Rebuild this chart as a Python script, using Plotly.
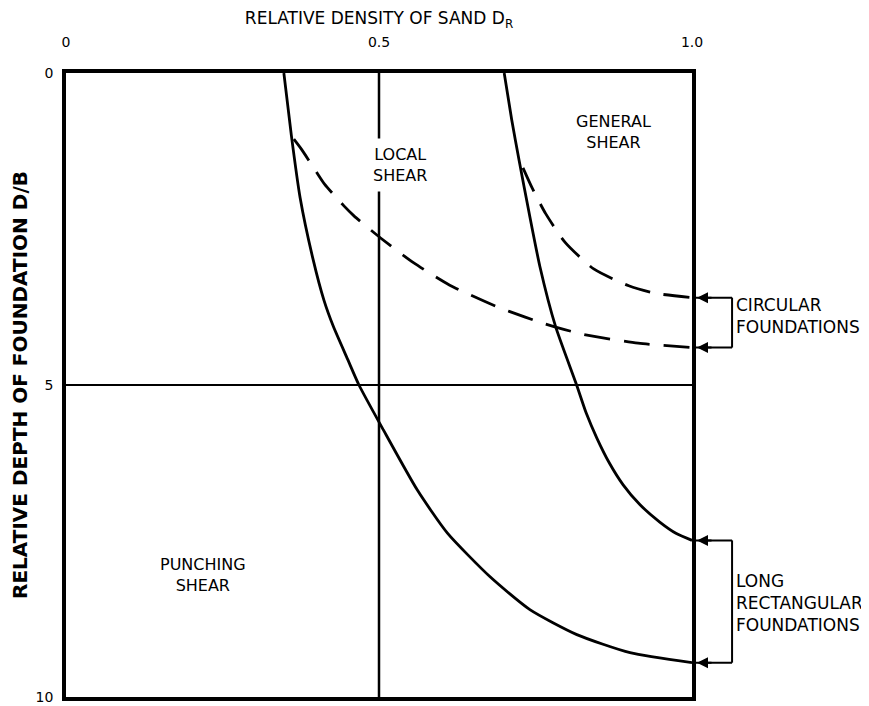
import plotly.graph_objects as go

# Solid boundary curves (relative density D_R vs relative depth D/B)
punch_x = [0.348, 0.360, 0.374, 0.395, 0.412, 0.427, 0.450, 0.468, 0.507, 0.561, 0.609, 0.677, 0.741, 0.816, 0.901, 1.0]
punch_y = [0.0, 1.0, 2.0, 3.0, 3.64, 4.06, 4.59, 5.0, 5.72, 6.68, 7.37, 8.07, 8.60, 9.0, 9.29, 9.45]

gen_x = [0.700, 0.712, 0.724, 0.739, 0.757, 0.782, 0.815, 0.831, 0.848, 0.868, 0.890, 0.917, 0.949, 0.975, 1.0]
gen_y = [0.0, 0.75, 1.41, 2.2, 3.1, 4.06, 4.98, 5.45, 5.85, 6.25, 6.60, 6.92, 7.20, 7.38, 7.49]

# Dashed curves (circular foundations)
circ_gen_x = [0.730, 0.745, 0.766, 0.797, 0.843, 0.899, 0.941, 1.0]
circ_gen_y = [1.52, 1.85, 2.25, 2.71, 3.14, 3.41, 3.53, 3.60]

circ_loc_x = [0.364, 0.376, 0.399, 0.413, 0.444, 0.460, 0.502, 0.555, 0.613, 0.687, 0.708, 0.759, 0.785, 0.827, 0.914, 1.0]
circ_loc_y = [1.06, 1.22, 1.57, 1.78, 2.13, 2.29, 2.64, 3.04, 3.40, 3.74, 3.82, 4.00, 4.08, 4.19, 4.33, 4.40]

x_ticks = [0, 0.5, 1.0]
x_tick_text = ["0", "0.5", "1.0"]
y_ticks = [0, 5, 10]
y_tick_text = ["0", "5", "10"]

FONT = "DejaVu Sans"
curve_w = 2.8

fig = go.Figure()
for xs, ys, dash in [(punch_x, punch_y, "solid"), (gen_x, gen_y, "solid"),
                     (circ_gen_x, circ_gen_y, "26px,14px"), (circ_loc_x, circ_loc_y, "26px,14px")]:
    fig.add_trace(go.Scatter(x=xs, y=ys, mode="lines",
                             line=dict(color="black", width=curve_w, shape="spline", smoothing=0.6, dash=dash),
                             showlegend=False, hoverinfo="skip"))

shapes = [
    dict(type="line", xref="x", yref="y", x0=0.5, x1=0.5, y0=0, y1=10, line=dict(color="black", width=2.5)),
    dict(type="line", xref="x", yref="y", x0=0, x1=1, y0=5, y1=5, line=dict(color="black", width=2)),
]
bx = 1.064
for ya, yb in [(circ_gen_y[-1], circ_loc_y[-1]), (gen_y[-1], punch_y[-1])]:
    shapes.append(dict(type="line", xref="paper", yref="y", x0=1.0, x1=bx, y0=ya, y1=ya, line=dict(color="black", width=2)))
    shapes.append(dict(type="line", xref="paper", yref="y", x0=1.0, x1=bx, y0=yb, y1=yb, line=dict(color="black", width=2)))
    shapes.append(dict(type="line", xref="paper", yref="y", x0=bx, x1=bx, y0=ya, y1=yb, line=dict(color="black", width=2)))

annotations = []
# arrowheads at the curve ends (right edge), pointing left
for yv in [circ_gen_y[-1], circ_loc_y[-1], gen_y[-1], punch_y[-1]]:
    annotations.append(dict(xref="paper", yref="y", x=1.008, y=yv, ax=16, ay=0, text="", showarrow=True,
                            arrowhead=2, arrowsize=1.1, arrowwidth=2, arrowcolor="black"))

lab_font = dict(family=FONT, size=16, color="black")
side_font = dict(family=FONT, size=17, color="black")
annotations += [
    dict(xref="x", yref="y", x=0.534, y=1.47, text="LOCAL<br>SHEAR", showarrow=False, font=lab_font,
         bgcolor="white", borderpad=6, align="center"),
    dict(xref="x", yref="y", x=0.875, y=0.95, text="GENERAL<br>SHEAR", showarrow=False, font=lab_font, align="center"),
    dict(xref="x", yref="y", x=0.219, y=8.04, text="PUNCHING<br>SHEAR", showarrow=False, font=lab_font, align="center"),
    dict(xref="paper", yref="y", x=1.067, y=3.9, xanchor="left", text="CIRCULAR<br>FOUNDATIONS", showarrow=False,
         font=side_font, align="left"),
    dict(xref="paper", yref="y", x=1.067, y=8.49, xanchor="left", text="LONG<br>RECTANGULAR<br>FOUNDATIONS",
         showarrow=False, font=side_font, align="left"),
]

# page body has an 8px margin, so the figure is sized 8px smaller than the window
fig.update_layout(
    width=861, height=698,
    margin=dict(l=58, r=177, t=65, b=9),
    plot_bgcolor="white", paper_bgcolor="white",
    shapes=shapes, annotations=annotations,
    font=dict(family=FONT, color="black"),
    xaxis=dict(range=[0, 1], side="top", tickvals=x_ticks, ticktext=x_tick_text, showgrid=False, zeroline=False,
               showline=True, linewidth=3.5, linecolor="black", mirror=True, ticks="", ticklabelstandoff=17,
               automargin=False, tickfont=dict(family=FONT, size=14),
               title=dict(text="RELATIVE DENSITY OF SAND D<sub>R</sub>", font=dict(family=FONT, size=17), standoff=7)),
    yaxis=dict(range=[10, 0], tickvals=y_ticks, ticktext=y_tick_text, showgrid=False, zeroline=False,
               showline=True, linewidth=3.5, linecolor="black", mirror=True, ticks="", ticklabelstandoff=6,
               automargin=False, tickfont=dict(family=FONT, size=14),
               title=dict(text="<b>RELATIVE DEPTH OF FOUNDATION D/B</b>", font=dict(family=FONT, size=20), standoff=4)),
)

fig.write_html("out.html")
